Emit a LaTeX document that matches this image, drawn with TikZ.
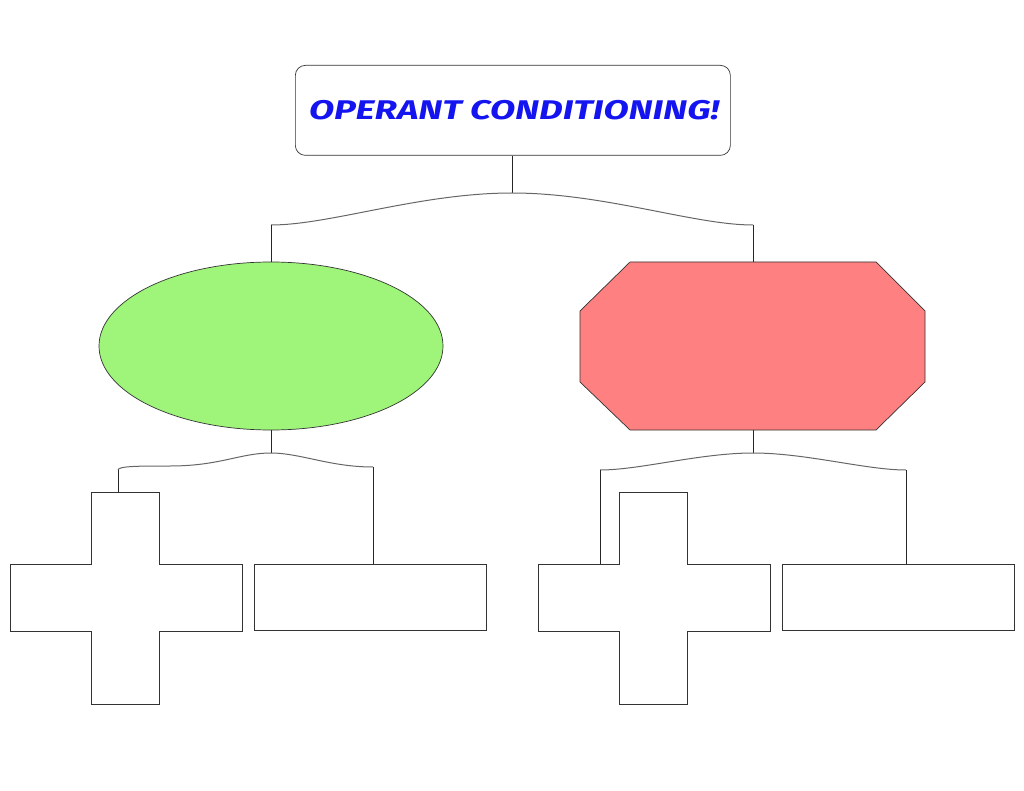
\documentclass[tikz,border=0pt]{standalone}
\usepackage{fontspec}
\setmainfont{Fira Sans}
\usetikzlibrary{shapes.geometric}
\definecolor{tblue}{RGB}{20,20,240}
\definecolor{egreen}{RGB}{158,245,122}
\definecolor{ored}{RGB}{255,128,128}
\tikzset{shape line/.style={draw=black!80,line width=0.7pt},
 link/.style={draw=black!85,line width=0.7pt},
 wave/.style={draw=black!60,line width=1pt}}
\begin{document}
\begin{tikzpicture}[x=1pt,y=-1pt]
\useasboundingbox (0,0) rectangle (1024,791);
% title
\node[shape line,rounded corners=10pt,minimum width=435pt,minimum height=90pt,anchor=north west] (title) at (295,65) {};
\node[text=tblue,font=\fontsize{27}{30}\selectfont\bfseries\itshape] (tt) at (514,110) {\scalebox{1.36}[1]{OPERANT CONDITIONING!}};
% ellipse
\node[ellipse,shape line,fill=egreen,minimum width=344pt,minimum height=168pt,inner sep=0] (ell) at (271,346) {};
% octagon
\draw[shape line,fill=ored] (630,262)--(876,262)--(925,311)--(925,382)--(876,430)--(630,430)--(580,382)--(580,311)--cycle;
\coordinate (oct top) at (753,262);
\coordinate (oct bot) at (753,430);
% crosses and rects
\foreach \dx/\nm in {0/L,528/R}{
 \draw[shape line,fill=white] (91+\dx,492)--(159+\dx,492)--(159+\dx,564)--(242+\dx,564)--(242+\dx,631)--(159+\dx,631)--(159+\dx,704)--(91+\dx,704)--(91+\dx,631)--(10+\dx,631)--(10+\dx,564)--(91+\dx,564)--cycle;
 \node[shape line,fill=white,minimum width=232pt,minimum height=66pt,anchor=north west,inner sep=0] (rect\nm) at (254+\dx,564) {};
}
% top connector
\coordinate (tw) at (512,193);
\draw[link] (tw |- title.south) -- (tw);
\draw[wave] (271,225) .. controls (330,225) and (420,193) .. (tw) .. controls (604,193) and (694,225) .. (753,225);
\draw[link] (271,225) -- (ell.north);
\draw[link] (753,225) -- (oct top);
% lower left
\coordinate (lw) at (271,453);
\draw[link] (ell.south) -- (lw);
\draw[wave] (118,470) .. controls (118,466) and (140,466) .. (170,466) .. controls (220,466) and (240,453) .. (lw) .. controls (300,453) and (330,467) .. (373,467);
\draw[link] (118,470) -- (118,492);
\draw[link] (373,467) -- (373,564);
% lower right
\coordinate (rw) at (753,453);
\draw[link] (oct bot) -- (rw);
\draw[wave] (600,470) .. controls (640,470) and (700,453) .. (rw) .. controls (806,453) and (866,470) .. (906,470);
\draw[link] (600,470) -- (600,564);
\draw[link] (906,470) -- (906,564);
\end{tikzpicture}
\end{document}
